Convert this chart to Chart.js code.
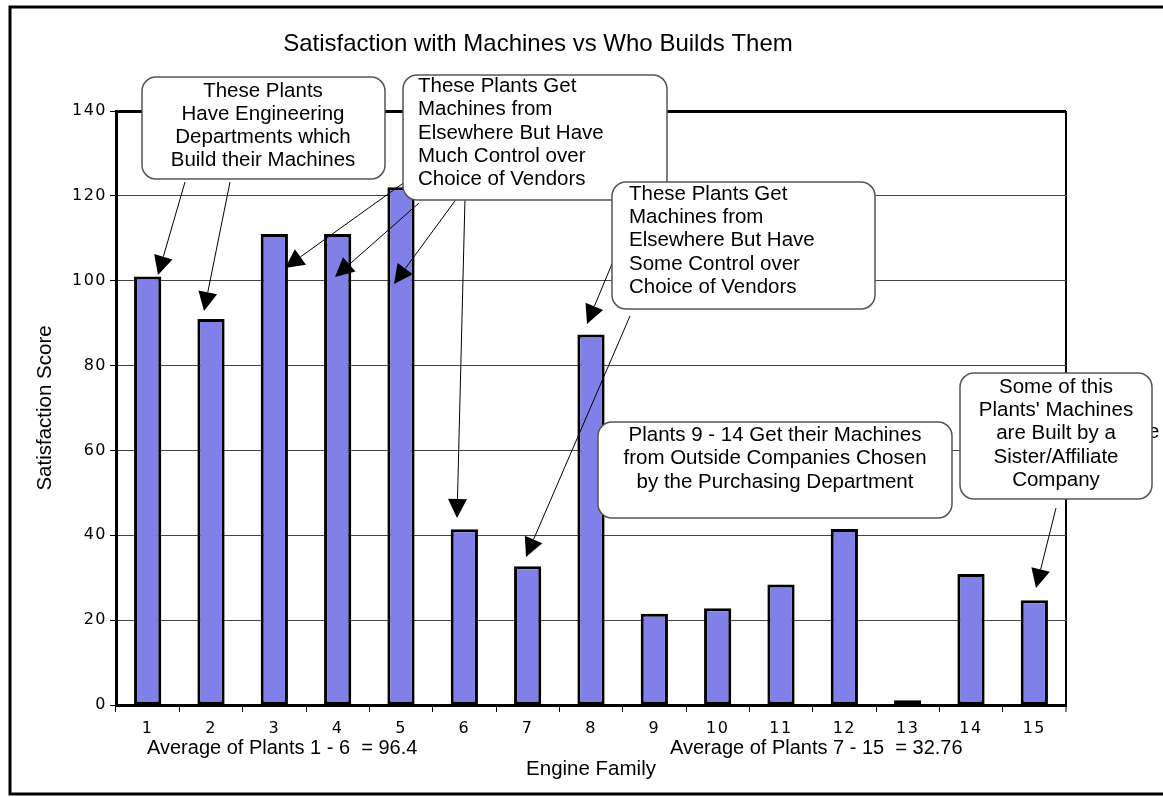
<!DOCTYPE html>
<html>
<head>
<meta charset="utf-8">
<title>Satisfaction with Machines vs Who Builds Them</title>
<script src="https://cdn.jsdelivr.net/npm/chart.js@4/dist/chart.umd.min.js"></script>
<style>
  html, body { margin: 0; padding: 0; background: #fff; overflow: hidden; }
  canvas { display: block; }
</style>
</head>
<body>
<canvas id="chart" width="1163" height="797" style="width:1163px;height:797px"></canvas>
<script>
// Engine families on the x axis and the satisfaction score of each plant
const engineFamilies = ['1', '2', '3', '4', '5', '6', '7', '8', '9', '10', '11', '12', '13', '14', '15'];
const satisfactionScores = [101, 91, 111, 111, 122, 41.4, 32.7, 87.3, 21.5, 22.8, 28.4, 41.5, 1.1, 30.9, 24.7];
const scoreTicks = [0, 20, 40, 60, 80, 100, 120, 140];

const chartTitle = 'Satisfaction with Machines vs Who Builds Them';
const xTitle = 'Engine Family';
const yTitle = 'Satisfaction Score';
const averageNotes = ['Average of Plants 1 - 6  = 96.4', 'Average of Plants 7 - 15  = 32.76'];

// Callout texts
const noteEngineering = ['These Plants', 'Have Engineering', 'Departments which', 'Build their Machines'];
const noteMuchControl = ['These Plants Get', 'Machines from', 'Elsewhere But Have', 'Much Control over', 'Choice of Vendors'];
const noteSomeControl = ['These Plants Get', 'Machines from', 'Elsewhere But Have', 'Some Control over', 'Choice of Vendors'];
const notePurchasing = ['Plants 9 - 14 Get their Machines', 'from Outside Companies Chosen', 'by the Purchasing Department'];
const noteAffiliate = ['Some of this', "Plants' Machines", 'are Built by a', 'Sister/Affiliate', 'Company'];

const TEXT_FONT = '"Liberation Sans", Arial, Helvetica, sans-serif';
const TICK_FONT = '"DejaVu Sans", Verdana, sans-serif';

// Callout layout: box corners, text placement, arrows (start -> tip)
const callouts = [
  { lines: noteEngineering, box: [142, 77, 385, 179], align: 'center', textX: 263, firstY: 91, step: 23,
    arrows: [[185, 182, 158, 275], [230, 182, 204, 311]] },
  { lines: noteMuchControl, box: [403, 75, 667, 200], align: 'left', textX: 418, firstY: 86.5, step: 23.3,
    arrows: [[409, 179, 285, 268], [419, 203, 335, 277], [457, 198, 394, 284], [465, 198, 457, 518]] },
  { lines: noteSomeControl, box: [612, 182, 875, 309], align: 'left', textX: 629, firstY: 194, step: 23.4,
    arrows: [[614, 259, 587, 324], [630, 316, 526, 557]] },
  { lines: notePurchasing, box: [598, 422, 952, 518], align: 'center', textX: 775, firstY: 435, step: 23.5,
    arrows: [] },
  { lines: noteAffiliate, box: [960, 373, 1152, 499], align: 'center', textX: 1056, firstY: 387, step: 23.3,
    arrows: [[1056, 508, 1036, 588]] }
];

function drawArrow(ctx, x0, y0, x1, y1) {
  const ang = Math.atan2(y1 - y0, x1 - x0);
  const len = 19, half = 9.5;
  const bx = x1 - len * Math.cos(ang), by = y1 - len * Math.sin(ang);
  ctx.strokeStyle = '#000';
  ctx.lineWidth = 1;
  ctx.beginPath();
  ctx.moveTo(x0, y0);
  ctx.lineTo(bx, by);
  ctx.stroke();
  ctx.fillStyle = '#000';
  ctx.beginPath();
  ctx.moveTo(x1, y1);
  ctx.lineTo(bx + half * Math.sin(ang), by - half * Math.cos(ang));
  ctx.lineTo(bx - half * Math.sin(ang), by + half * Math.cos(ang));
  ctx.closePath();
  ctx.fill();
}

function drawCallout(ctx, c) {
  const [x0, y0, x1, y1] = c.box;
  ctx.beginPath();
  ctx.roundRect(x0, y0, x1 - x0, y1 - y0, 14);
  ctx.fillStyle = '#fff';
  ctx.fill();
  ctx.lineWidth = 1.5;
  ctx.strokeStyle = '#555';
  ctx.stroke();
  ctx.fillStyle = '#000';
  ctx.font = '20.5px ' + TEXT_FONT;
  ctx.textAlign = c.align;
  ctx.textBaseline = 'middle';
  c.lines.forEach((t, i) => ctx.fillText(t, c.textX, c.firstY + i * c.step));
}

const decorations = {
  id: 'decorations',
  beforeDraw(chart) {
    chart.ctx.letterSpacing = '0px';
  },
  afterDatasetsDraw(chart) {
    // slightly wider spacing for the numeric tick labels drawn next
    chart.ctx.letterSpacing = '1.5px';
  },
  afterDraw(chart) {
    const ctx = chart.ctx;
    ctx.save();
    ctx.letterSpacing = '0px';

    // outer frame
    ctx.strokeStyle = '#000';
    ctx.lineWidth = 3;
    ctx.strokeRect(10, 7, 1200, 787);

    // group averages under the axis labels
    ctx.fillStyle = '#000';
    ctx.font = '20px ' + TEXT_FONT;
    ctx.textAlign = 'left';
    ctx.textBaseline = 'middle';
    ctx.fillText(averageNotes[0], 147, 748);
    ctx.fillText(averageNotes[1], 670, 748);

    // text partly hidden behind the affiliate callout
    ctx.font = '20.5px ' + TEXT_FONT;
    ctx.fillText('e', 1148, 432);

    callouts.forEach(c => c.arrows.forEach(a => drawArrow(ctx, a[0], a[1], a[2], a[3])));
    callouts.forEach(c => drawCallout(ctx, c));
    ctx.restore();
    ctx.letterSpacing = '0px';
  }
};

Chart.defaults.color = '#000';

new Chart(document.getElementById('chart'), {
  type: 'bar',
  data: {
    labels: engineFamilies,
    datasets: [{
      data: satisfactionScores,
      backgroundColor: '#8080e8',
      borderColor: '#000',
      borderWidth: 3,
      borderSkipped: false,
      barPercentage: 0.43,
      categoryPercentage: 1
    }]
  },
  options: {
    responsive: false,
    animation: false,
    devicePixelRatio: 1,
    layout: { padding: { left: 10, right: 97, top: 0, bottom: 0 } },
    plugins: {
      legend: { display: false },
      tooltip: { enabled: false },
      title: {
        display: true,
        text: chartTitle,
        color: '#000',
        font: { family: TEXT_FONT, size: 24, weight: 'normal', lineHeight: 1.2 },
        padding: { top: 30, bottom: 52.2 }
      }
    },
    scales: {
      x: {
        grid: {
          offset: true,
          color: c => (c.type === 'scale' ? '#000' : 'rgba(0,0,0,0)'),
          lineWidth: c => (c.type === 'scale' ? 2 : 1),
          tickColor: '#000',
          tickWidth: 1,
          tickLength: 7,
          drawTicks: true
        },
        border: { display: true, color: '#000', width: 3 },
        ticks: {
          color: '#000',
          font: { family: TICK_FONT, size: 16 },
          padding: 7,
          z: 1,
          maxRotation: 0,
          autoSkip: false
        },
        title: {
          display: true,
          text: xTitle,
          color: '#000',
          font: { family: TEXT_FONT, size: 20.5, weight: 'normal', lineHeight: 1.2 },
          padding: { top: 0, bottom: 15 }
        },
        afterFit(scale) { scale.height = 92; }
      },
      y: {
        min: scoreTicks[0],
        max: scoreTicks[scoreTicks.length - 1],
        afterBuildTicks(scale) { scale.ticks = scoreTicks.map(v => ({ value: v })); },
        ticks: {
          color: '#000',
          font: { family: TICK_FONT, size: 16 },
          padding: 3,
          z: 1
        },
        grid: {
          color: c => (c.tick && c.tick.value === 140 ? '#000' : '#444'),
          lineWidth: c => (c.tick && c.tick.value === 140 ? 3 : 1),
          tickColor: '#000',
          tickWidth: 1,
          tickLength: 6
        },
        border: { display: true, color: '#000', width: 3 },
        title: {
          display: true,
          text: yTitle,
          color: '#000',
          font: { family: TEXT_FONT, size: 20.5, weight: 'normal', lineHeight: 1.2 },
          padding: { top: 22.7, bottom: 0 }
        },
        afterFit(scale) { scale.width = 106; }
      }
    }
  },
  plugins: [decorations]
});
</script>
</body>
</html>
